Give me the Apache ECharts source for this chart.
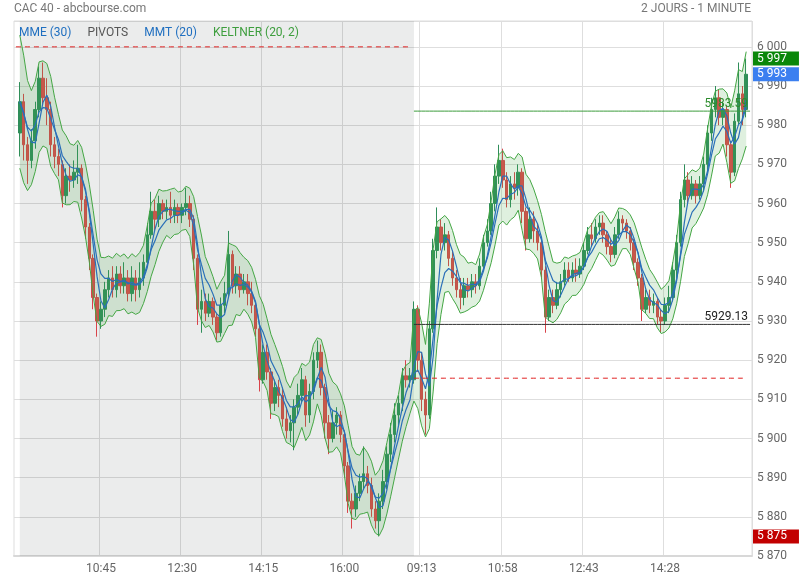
<!DOCTYPE html>
<html>
<head>
<meta charset="utf-8">
<script src="https://cdn.jsdelivr.net/npm/echarts@6/dist/echarts.min.js"></script>
<style>
html,body{margin:0;padding:0;background:#fff;}
#chart{width:800px;height:580px;}
</style>
</head>
<body>
<div id="chart"></div>
<script>
// ---- Data (5-minute candles: [open, close, low, high]) ----
const barMinutes = 5;
const day1Start = 540; // 09:00
const day2Start = 543; // 09:03
const xTickLabels = ['10:45','12:30','14:15','16:00','09:13','10:58','12:43','14:28'];

const day1 = [
[5978,5986,5972,5991],[5986,5975,5971,5988],[5975,5971,5965,5977],[5971,5976,5969,5979],
[5976,5984,5974,5986],[5984,5992,5982,5995],[5992,5987,5985,5996],[5987,5984,5980,5992],
[5984,5975,5972,5986],[5975,5972,5969,5977],[5972,5970,5967,5974],[5970,5962,5959,5971],
[5962,5967,5960,5969],[5967,5966,5963,5970],[5966,5968,5964,5971],[5968,5969,5965,5975],
[5969,5961,5958,5970],[5961,5954,5951,5962],[5954,5946,5943,5955],[5946,5936,5933,5947],
[5936,5930,5926,5937],[5930,5933,5928,5935],[5933,5938,5931,5940],[5938,5941,5936,5943],
[5941,5938,5936,5944],[5938,5942,5936,5944],[5942,5939,5937,5944],[5939,5941,5937,5945],
[5941,5937,5935,5943],[5937,5941,5935,5944],[5941,5938,5935,5943],[5938,5941,5936,5945],
[5941,5945,5939,5947],[5945,5952,5944,5955],[5952,5958,5951,5963],[5958,5956,5953,5961],
[5956,5960,5954,5962],[5960,5958,5956,5961],[5958,5959,5956,5961],[5959,5957,5955,5963],
[5957,5959,5955,5961],[5959,5957,5955,5960],[5957,5959,5955,5960],[5959,5960,5957,5964],
[5960,5956,5954,5962],[5956,5946,5943,5957],[5946,5933,5929,5947],[5933,5935,5927,5938],
[5935,5932,5930,5937],[5932,5935,5931,5937],[5935,5931,5929,5936],[5931,5927,5925,5932],
[5927,5934,5926,5936],[5934,5937,5932,5940],[5937,5947,5936,5953],[5947,5939,5937,5948],
[5939,5942,5937,5944],[5942,5938,5936,5944],[5938,5940,5937,5942],[5940,5937,5934,5942],
[5937,5934,5932,5940],[5934,5928,5926,5935],[5928,5915,5912,5929],[5915,5922,5914,5924],
[5922,5917,5915,5924],[5917,5909,5905,5918],[5909,5913,5907,5915],[5913,5911,5908,5915],
[5911,5905,5903,5913],[5905,5902,5900,5908],[5902,5904,5899,5906],[5904,5908,5897,5910],
[5908,5911,5906,5914],[5911,5915,5909,5918],[5915,5906,5903,5916],[5906,5912,5904,5914],
[5912,5920,5910,5922],[5920,5922,5918,5925],[5922,5913,5911,5924],[5913,5904,5900,5914],
[5904,5900,5896,5906],[5900,5904,5899,5907],[5904,5906,5901,5908],[5906,5901,5899,5907],
[5901,5893,5890,5902],[5893,5884,5881,5894],[5884,5882,5877,5886],[5882,5886,5880,5888],
[5886,5889,5884,5891],[5889,5891,5887,5898],[5891,5888,5886,5893],[5888,5882,5880,5890],
[5882,5879,5877,5884],[5879,5884,5875,5886],[5884,5889,5882,5892],[5889,5896,5887,5898],
[5896,5901,5894,5904],[5901,5906,5899,5909],[5906,5909,5903,5911],[5909,5916,5907,5918],
[5916,5915,5913,5920],[5915,5916,5913,5918]
];

const day2 = [
[5915,5933,5914,5935],[5933,5920,5917,5934],[5920,5910,5907,5922],[5910,5906,5901,5912],
[5906,5928,5905,5930],[5928,5948,5927,5951],[5948,5954,5946,5959],[5954,5950,5948,5956],
[5950,5952,5948,5955],[5952,5946,5944,5953],[5946,5941,5939,5948],[5941,5938,5936,5943],
[5938,5936,5933,5941],[5936,5939,5934,5941],[5939,5938,5936,5941],[5938,5940,5936,5942],
[5940,5939,5937,5942],[5939,5944,5938,5946],[5944,5950,5943,5952],[5950,5953,5949,5956],
[5953,5960,5952,5963],[5960,5967,5958,5970],[5967,5971,5965,5975],[5971,5966,5964,5974],
[5966,5961,5959,5968],[5961,5965,5959,5967],[5965,5964,5961,5968],[5964,5968,5962,5970],
[5968,5958,5955,5969],[5958,5951,5948,5959],[5951,5956,5950,5959],[5956,5953,5950,5958],
[5953,5950,5948,5955],[5950,5943,5941,5951],[5943,5931,5927,5944],[5931,5936,5930,5938],
[5936,5934,5932,5938],[5934,5938,5933,5940],[5938,5940,5936,5942],[5940,5943,5939,5945],
[5943,5941,5940,5945],[5941,5943,5940,5945],[5943,5942,5940,5946],[5942,5944,5941,5946],
[5944,5948,5943,5950],[5948,5952,5947,5954],[5952,5951,5949,5955],[5951,5954,5950,5956],
[5954,5955,5952,5957],[5955,5952,5950,5957],[5952,5949,5947,5953],[5949,5947,5945,5951],
[5947,5952,5946,5954],[5952,5956,5951,5958],[5956,5955,5953,5957],[5955,5953,5951,5956],
[5953,5950,5948,5954],[5950,5945,5943,5951],[5945,5941,5939,5946],[5941,5933,5930,5942],
[5933,5936,5932,5938],[5936,5934,5932,5938],[5934,5935,5932,5937],[5935,5931,5929,5936],
[5931,5930,5927,5933],[5930,5934,5929,5936],[5934,5936,5932,5939],[5936,5943,5935,5945],
[5943,5950,5941,5952],[5950,5961,5949,5963],[5961,5966,5959,5970],[5966,5962,5960,5968],
[5962,5965,5961,5967],[5965,5962,5960,5966],[5962,5965,5961,5967],[5965,5970,5963,5972],
[5970,5978,5968,5980],[5978,5984,5976,5987],[5984,5987,5982,5990],[5987,5982,5980,5989],
[5982,5984,5980,5986],[5984,5975,5972,5985],[5975,5968,5964,5976],[5968,5981,5967,5983],
[5981,5988,5980,5996],[5988,5984,5980,5990],[5984,5993,5982,5997]
];

const pivotDay1 = 6000.0;
const pivotDay2 = 5915.4;
const levelGreen = 5983.59;
const levelBlack = 5929.13;

const mmePeriod = 30, mmtPeriod = 20, keltPeriod = 20, keltMult = 2;

// ---- Build ----
function hhmm(m){return String(Math.floor(m/60)).padStart(2,'0')+':'+String(m%60).padStart(2,'0');}
const cats = [hhmm(day1Start - barMinutes)];
day1.forEach((d,i)=>cats.push(hhmm(day1Start + barMinutes*i)));
for (let i=0;i<=day2.length;i++) cats.push(hhmm(day2Start + barMinutes*i));

const candles = day1.concat(day2);
const closes = candles.map(c=>c[1]);

function ema(arr,n){const a=2/(n+1);let p;return arr.map((v,i)=>{p=i?p+a*(v-p):v;return p;});}
function sma(arr,n){return arr.map((v,i)=>{const s=arr.slice(Math.max(0,i-n+1),i+1);return s.reduce((x,y)=>x+y,0)/s.length;});}
const r2 = v => Math.round(v*100)/100;

const nMme = Math.round(mmePeriod/barMinutes);
const nMmt = Math.round(mmtPeriod/barMinutes);
const nK = Math.round(keltPeriod/barMinutes);
const kMult = keltMult/Math.sqrt(barMinutes);

const mme = ema(closes, nMme).map(r2);
const mmt = sma(sma(closes, Math.ceil((nMmt+1)/2)), Math.floor((nMmt+1)/2)).map(r2);
const mid = ema(closes, nK);
const tr = candles.map((c,i)=>{ if(!i) return c[3]-c[2]; const pc=candles[i-1][1]; return Math.max(c[3]-c[2], Math.abs(c[3]-pc), Math.abs(c[2]-pc)); });
const atr = ema(tr, nK);
const upper = mid.map((m,i)=>m+kMult*atr[i]);
const lower = mid.map((m,i)=>r2(m-kMult*atr[i]));
const bandW = upper.map((u,i)=>r2(u-lower[i]));

const pad = a => ['-'].concat(a);
const hiVal = Math.max(...candles.map(c=>c[3]));
const loVal = Math.min(...candles.map(c=>c[2]));
const lastVal = closes[closes.length-1];
const fmt = n => String(n).replace(/\B(?=(\d{3})+(?!\d))/g,' ');

const iD1Last = day1.length;            // index of last day-1 category
const iD2First = day1.length + 1;
const iD2Last = day1.length + day2.length;
const iEnd = cats.length - 1;
// horizontal level drawn as a line series over a category range
const levelData = (v, from, to) => cats.map((c,i)=> (i>=from && i<=to) ? v : '-');

const isTick = (idx, val) => xTickLabels.indexOf(val) >= 0;

const chart = echarts.init(document.getElementById('chart'), null, {renderer:'canvas'});
chart.setOption({
  animation:false,
  textStyle:{fontFamily:'Roboto'},
  title:[
    {text:'CAC 40 - abcbourse.com', left:14, top:3, padding:0, textStyle:{fontSize:12, fontWeight:'normal', color:'#777', fontFamily:'Roboto'}},
    {text:'2 JOURS - 1 MINUTE', right:49, top:3, padding:0, textStyle:{fontSize:12, fontWeight:'normal', color:'#777', fontFamily:'Roboto'}}
  ],
  legend:{
    left:9, top:21, icon:'none', itemWidth:0, itemHeight:14, itemGap:11, selectedMode:false,
    textStyle:{fontSize:12, fontFamily:'Roboto'},
    data:[
      {name:'MME (30)', textStyle:{color:'#1f6fc0'}},
      {name:'PIVOTS', textStyle:{color:'#555'}},
      {name:'MMT (20)', textStyle:{color:'#1f6fc0'}},
      {name:'KELTNER (20, 2)', textStyle:{color:'#3e9e3e'}}
    ]
  },
  grid:{left:14, right:48, top:21, bottom:24, show:true, borderColor:'#ddd', borderWidth:1, backgroundColor:'transparent'},
  xAxis:{
    type:'category', data:cats, boundaryGap:true,
    axisLine:{lineStyle:{color:'#d8d8d8', width:2}},
    axisTick:{show:false},
    axisLabel:{interval:isTick, color:'#666', fontSize:12, margin:7, fontFamily:'Roboto'},
    splitLine:{show:true, interval:isTick, lineStyle:{color:'#dedede', width:1}}
  },
  yAxis:{
    type:'value', position:'right', min:5870, max:6006.6, interval:10, scale:true,
    axisLine:{show:false}, axisTick:{show:false},
    axisLabel:{color:'#666', fontSize:12, margin:5, showMaxLabel:false, fontFamily:'Roboto',
      formatter:v => (Math.abs(v - Math.round(v/10)*10) < 0.01) ? fmt(Math.round(v)) : ''},
    splitLine:{lineStyle:{color:'#dedede', width:1}}
  },
  series:[
    {
      name:'CAC 40', type:'candlestick', data:pad(candles).map(v=>v==='-'?['-','-','-','-']:v),
      barWidth:'78%',
      itemStyle:{color:'#2f8d5a', color0:'#e2474b', borderColor:'#2f8d5a', borderColor0:'#d9434a', borderWidth:1},
      markArea:{silent:true, itemStyle:{color:'rgba(20,40,30,0.085)'}, data:[[{xAxis:cats[1]},{xAxis:cats[iD2First]}]]}
    },
    {
      name:'kLower', type:'line', stack:'kelt', data:pad(lower), symbol:'none',
      lineStyle:{color:'#44a644', width:1}, z:3
    },
    {
      name:'KELTNER (20, 2)', type:'line', stack:'kelt', data:pad(bandW), symbol:'none',
      lineStyle:{color:'#44a644', width:1}, areaStyle:{color:'rgba(72,172,72,0.25)'}, z:3
    },
    {
      name:'MMT (20)', type:'line', data:pad(mmt), symbol:'none',
      lineStyle:{color:'#2a6fb8', width:1.2}, z:4
    },
    {
      name:'MME (30)', type:'line', data:pad(mme), symbol:'none',
      lineStyle:{color:'#2a6fb8', width:1.2}, z:4
    },
    {
      name:'PIVOTS', type:'line', data:levelData(pivotDay1, 0, iD1Last), symbol:'none', silent:true,
      color:'#e02020', lineStyle:{color:'#e02020', type:[5,4], width:1}, z:6
    },
    {
      name:'PIVOTS', type:'line', data:levelData(pivotDay2, iD2First, iD2Last), symbol:'none', silent:true,
      color:'#e02020', lineStyle:{color:'#e02020', type:[5,4], width:1}, z:6
    },
    {
      name:'Niveau haut', type:'line', data:levelData(levelGreen, iD2First, iEnd), symbol:'none', silent:true,
      color:'#3c9c3c', lineStyle:{color:'#3c9c3c', width:1}, z:6,
      endLabel:{show:true, formatter:levelGreen.toFixed(2), color:'#2c8c2c', fontSize:12, distance:0,
        align:'right', verticalAlign:'bottom', offset:[-2,-1], fontFamily:'Roboto'}
    },
    {
      name:'Niveau bas', type:'line', data:levelData(levelBlack, iD2First, iEnd), symbol:'none', silent:true,
      color:'#333', lineStyle:{color:'#333', width:1}, z:6,
      endLabel:{show:true, formatter:levelBlack.toFixed(2), color:'#222', fontSize:12, distance:0,
        align:'right', verticalAlign:'bottom', offset:[-2,-1], fontFamily:'Roboto'}
    },
    {
      name:'Tags', type:'line', data:[], symbol:'none', z:7,
      markLine:{silent:true, symbol:['none','none'],
        lineStyle:{color:'rgba(0,0,0,0)', width:0},
        label:{show:true, position:'end', color:'#fff', fontSize:12, padding:[1,12,1,4], distance:1, fontFamily:'Roboto'},
        data:[
          {yAxis:hiVal, label:{show:true, formatter:fmt(hiVal), backgroundColor:'#0a870a', color:'#fff'}},
          {yAxis:lastVal, label:{show:true, formatter:fmt(lastVal), backgroundColor:'#3b7ff0', color:'#fff'}},
          {yAxis:loVal, label:{show:true, formatter:fmt(loVal), backgroundColor:'#c20000', color:'#fff'}}
        ]}
    }
  ]
});
</script>
</body>
</html>
